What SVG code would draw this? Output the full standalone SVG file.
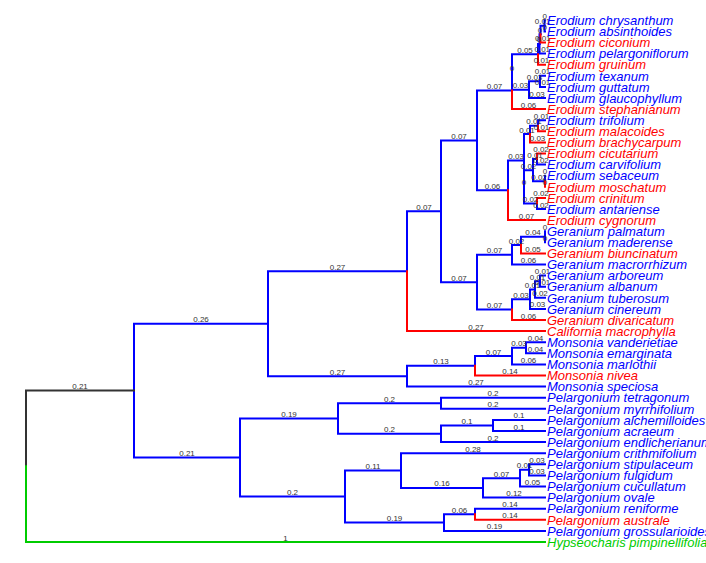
<svg xmlns="http://www.w3.org/2000/svg" width="706" height="563" viewBox="0 0 706 563">
<style>
.e{fill:none;stroke-width:2;stroke-linecap:square;stroke-linejoin:miter}
.b{stroke:#0000FF}.r{stroke:#FF0000}.k{stroke:#333333}.g{stroke:#00CC00}
.el{font-family:"Liberation Sans",Arial,sans-serif;font-size:8px;fill:#333333;text-anchor:middle}
.lf{font-family:"Liberation Sans",Arial,sans-serif;font-size:13px;font-style:italic}
.tb{fill:#0000FF}.tr{fill:#FF0000}.tg{fill:#00CC00}
</style>
<rect width="706" height="563" fill="#FFFFFF"/>
<g id="connectors">
<path class="e b" d="M134,390.6V323.7H268"/>
<path class="e b" d="M134,390.6V457.53H240"/>
<path class="e b" d="M268,323.7V271.2H407"/>
<path class="e b" d="M268,323.7V376.19H407"/>
<path class="e b" d="M407,271.2V211.3H441"/>
<path class="e b" d="M441,211.3V140.4H477"/>
<path class="e b" d="M441,211.3V282.19H477"/>
<path class="e b" d="M477,140.4V90.54H512"/>
<path class="e b" d="M477,140.4V190.27H508"/>
<path class="e b" d="M512,90.54V71.98"/>
<path class="e b" d="M512,71.98V54.29H538"/>
<path class="e b" d="M512,71.98V89.675H529"/>
<path class="e b" d="M538,54.29V43.89H539.5"/>
<path class="e b" d="M539.5,43.89V34.175H540.5"/>
<path class="e b" d="M539.5,43.89V53.6H545"/>
<path class="e b" d="M540.5,34.175V25.85H544.5"/>
<path class="e b" d="M544.5,25.85V20.3H545"/>
<path class="e b" d="M544.5,25.85V31.4H545"/>
<path class="e b" d="M529,89.675V81.35H540"/>
<path class="e b" d="M529,89.675V98H545"/>
<path class="e b" d="M540,81.35V75.8H545"/>
<path class="e b" d="M540,81.35V86.9H545"/>
<path class="e b" d="M508,190.27V160.44H524"/>
<path class="e b" d="M524,160.44V134.075H530"/>
<path class="e b" d="M524,160.44V186.8"/>
<path class="e b" d="M530,134.075V125.75H538"/>
<path class="e b" d="M538,125.75V120.2H545"/>
<path class="e b" d="M524,186.8V170.15H533"/>
<path class="e b" d="M524,186.8V203.45H537"/>
<path class="e b" d="M533,170.15V159.05H537"/>
<path class="e b" d="M533,170.15V181.25H545"/>
<path class="e b" d="M537,159.05V164.6H545"/>
<path class="e b" d="M545,181.25V175.7"/>
<path class="e b" d="M537,203.45V209H545"/>
<path class="e b" d="M477,282.19V254.79H512"/>
<path class="e b" d="M477,282.19V309.6H512"/>
<path class="e b" d="M512,254.79V245.075H521"/>
<path class="e b" d="M512,254.79V264.5H545"/>
<path class="e b" d="M521,245.075V236.75H545"/>
<path class="e b" d="M545,236.75V231.2"/>
<path class="e b" d="M545,236.75V242.3"/>
<path class="e b" d="M512,309.6V299.19H530"/>
<path class="e b" d="M530,299.19V289.475H535"/>
<path class="e b" d="M530,299.19V308.9H545"/>
<path class="e b" d="M535,289.475V281.15H540"/>
<path class="e b" d="M535,289.475V297.8H545"/>
<path class="e b" d="M540,281.15V275.6H545"/>
<path class="e b" d="M540,281.15V286.7H545"/>
<path class="e b" d="M407,376.19V365.79H475"/>
<path class="e b" d="M407,376.19V386.6H545"/>
<path class="e b" d="M475,365.79V356.075H512"/>
<path class="e b" d="M512,356.075V347.75H526"/>
<path class="e b" d="M512,356.075V364.4H545"/>
<path class="e b" d="M526,347.75V342.2H545"/>
<path class="e b" d="M526,347.75V353.3H545"/>
<path class="e b" d="M240,457.53V418.51H338"/>
<path class="e b" d="M240,457.53V496.56H345"/>
<path class="e b" d="M338,418.51V403.25H441"/>
<path class="e b" d="M338,418.51V433.775H441"/>
<path class="e b" d="M441,403.25V397.7H545"/>
<path class="e b" d="M441,403.25V408.8H545"/>
<path class="e b" d="M441,433.775V425.45H493"/>
<path class="e b" d="M441,433.775V442.1H545"/>
<path class="e b" d="M493,425.45V419.9H545"/>
<path class="e b" d="M493,425.45V431H545"/>
<path class="e b" d="M345,496.56V470.54H401"/>
<path class="e b" d="M345,496.56V522.575H444"/>
<path class="e b" d="M401,470.54V453.2H545"/>
<path class="e b" d="M401,470.54V487.89H483"/>
<path class="e b" d="M483,487.89V478.175H520"/>
<path class="e b" d="M483,487.89V497.6H545"/>
<path class="e b" d="M520,478.175V469.85H529"/>
<path class="e b" d="M520,478.175V486.5H545"/>
<path class="e b" d="M529,469.85V464.3H545"/>
<path class="e b" d="M529,469.85V475.4H545"/>
<path class="e b" d="M444,522.575V514.25H475"/>
<path class="e b" d="M444,522.575V530.9H545"/>
<path class="e b" d="M475,514.25V508.7H545"/>
<path class="e r" d="M407,271.2V331.1H545"/>
<path class="e r" d="M512,90.54V109.1H545"/>
<path class="e r" d="M538,54.29V64.7H545"/>
<path class="e r" d="M540.5,34.175V42.5H545"/>
<path class="e r" d="M508,190.27V220.1H545"/>
<path class="e r" d="M530,134.075V142.4H545"/>
<path class="e r" d="M538,125.75V131.3H545"/>
<path class="e r" d="M537,159.05V153.5H545"/>
<path class="e r" d="M545,181.25V186.8"/>
<path class="e r" d="M537,203.45V197.9H545"/>
<path class="e r" d="M521,245.075V253.4H545"/>
<path class="e r" d="M512,309.6V320H545"/>
<path class="e r" d="M475,365.79V375.5H545"/>
<path class="e r" d="M475,514.25V519.8H545"/>
<path class="e k" d="M26,466.3V390.6H134"/>
<path class="e g" d="M26,466.3V542H545"/>
</g>
<g id="edge-labels">
<text class="el" x="201" y="322.2">0.26</text>
<text class="el" x="187" y="456">0.21</text>
<text class="el" x="337.5" y="269.7">0.27</text>
<text class="el" x="337.5" y="374.7">0.27</text>
<text class="el" x="424" y="209.8">0.07</text>
<text class="el" x="459" y="138.9">0.07</text>
<text class="el" x="459" y="280.7">0.07</text>
<text class="el" x="494.5" y="89">0.07</text>
<text class="el" x="492.5" y="188.8">0.06</text>
<text class="el" x="512" y="70.5">0</text>
<text class="el" x="525" y="52.8">0.05</text>
<text class="el" x="520.5" y="88.2">0.03</text>
<text class="el" x="538.8" y="42.4">0</text>
<text class="el" x="540" y="32.7">0</text>
<text class="el" x="542.3" y="52.1">0.01</text>
<text class="el" x="542.5" y="24.4">0.01</text>
<text class="el" x="544.8" y="18.8">0</text>
<text class="el" x="544.8" y="29.9">0</text>
<text class="el" x="534.5" y="79.9">0.03</text>
<text class="el" x="537" y="96.5">0.03</text>
<text class="el" x="542.5" y="74.3">0.01</text>
<text class="el" x="542.5" y="85.4">0.01</text>
<text class="el" x="516" y="158.9">0.03</text>
<text class="el" x="527" y="132.6">0.01</text>
<text class="el" x="524" y="185.3">0</text>
<text class="el" x="534" y="124.3">0.01</text>
<text class="el" x="541.5" y="118.7">0.01</text>
<text class="el" x="528.5" y="168.7">0.02</text>
<text class="el" x="530.5" y="202">0.02</text>
<text class="el" x="535" y="157.6">0.01</text>
<text class="el" x="539" y="179.8">0.02</text>
<text class="el" x="541" y="163.1">0.02</text>
<text class="el" x="545" y="174.2">0</text>
<text class="el" x="541" y="207.5">0.02</text>
<text class="el" x="494.5" y="253.3">0.07</text>
<text class="el" x="494.5" y="308.1">0.07</text>
<text class="el" x="516.5" y="243.6">0.02</text>
<text class="el" x="528.5" y="263">0.06</text>
<text class="el" x="533" y="235.3">0.04</text>
<text class="el" x="545" y="229.7">0</text>
<text class="el" x="545" y="240.8">0</text>
<text class="el" x="521" y="297.7">0.03</text>
<text class="el" x="532.5" y="288">0.01</text>
<text class="el" x="537.5" y="307.4">0.03</text>
<text class="el" x="537.5" y="279.7">0.01</text>
<text class="el" x="540" y="296.3">0.02</text>
<text class="el" x="542.5" y="274.1">0.01</text>
<text class="el" x="542.5" y="285.2">0.01</text>
<text class="el" x="441" y="364.3">0.13</text>
<text class="el" x="476" y="385.1">0.27</text>
<text class="el" x="493.5" y="354.6">0.07</text>
<text class="el" x="519" y="346.3">0.03</text>
<text class="el" x="528.5" y="362.9">0.06</text>
<text class="el" x="535.5" y="340.7">0.04</text>
<text class="el" x="535.5" y="351.8">0.04</text>
<text class="el" x="289" y="417">0.19</text>
<text class="el" x="292.5" y="495.1">0.2</text>
<text class="el" x="389.5" y="401.8">0.2</text>
<text class="el" x="389.5" y="432.3">0.2</text>
<text class="el" x="493" y="396.2">0.2</text>
<text class="el" x="493" y="407.3">0.2</text>
<text class="el" x="467" y="424">0.1</text>
<text class="el" x="493" y="440.6">0.2</text>
<text class="el" x="519" y="418.4">0.1</text>
<text class="el" x="519" y="429.5">0.1</text>
<text class="el" x="373" y="469">0.11</text>
<text class="el" x="394.5" y="521.1">0.19</text>
<text class="el" x="473" y="451.7">0.28</text>
<text class="el" x="442" y="486.4">0.16</text>
<text class="el" x="501.5" y="476.7">0.07</text>
<text class="el" x="514" y="496.1">0.12</text>
<text class="el" x="524.5" y="468.4">0.01</text>
<text class="el" x="532.5" y="485">0.05</text>
<text class="el" x="537" y="462.8">0.03</text>
<text class="el" x="537" y="473.9">0.03</text>
<text class="el" x="459.5" y="512.8">0.06</text>
<text class="el" x="494.5" y="529.4">0.19</text>
<text class="el" x="510" y="507.2">0.14</text>
<text class="el" x="476" y="329.6">0.27</text>
<text class="el" x="528.5" y="107.6">0.06</text>
<text class="el" x="541.5" y="63.2">0.01</text>
<text class="el" x="542.8" y="41">0.01</text>
<text class="el" x="526.5" y="218.6">0.07</text>
<text class="el" x="537.5" y="140.9">0.03</text>
<text class="el" x="541.5" y="129.8">0.01</text>
<text class="el" x="541" y="152">0.02</text>
<text class="el" x="545" y="185.3">0</text>
<text class="el" x="541" y="196.4">0.02</text>
<text class="el" x="533" y="251.9">0.05</text>
<text class="el" x="528.5" y="318.5">0.06</text>
<text class="el" x="510" y="374">0.14</text>
<text class="el" x="510" y="518.3">0.14</text>
<text class="el" x="80" y="389.1">0.21</text>
<text class="el" x="285.5" y="540.5">1</text>
</g>
<g id="leaves">
<g id="n01"><text class="lf tb" x="547" y="25">Erodium chrysanthum</text></g>
<g id="n02"><text class="lf tb" x="547" y="36.1">Erodium absinthoides</text></g>
<g id="n03"><text class="lf tr" x="547" y="47.2">Erodium ciconium</text></g>
<g id="n04"><text class="lf tb" x="547" y="58.3">Erodium pelargoniflorum</text></g>
<g id="n05"><text class="lf tr" x="547" y="69.4">Erodium gruinum</text></g>
<g id="n06"><text class="lf tb" x="547" y="80.5">Erodium texanum</text></g>
<g id="n07"><text class="lf tb" x="547" y="91.6">Erodium guttatum</text></g>
<g id="n08"><text class="lf tb" x="547" y="102.7">Erodium glaucophyllum</text></g>
<g id="n09"><text class="lf tr" x="547" y="113.8">Erodium stephanianum</text></g>
<g id="n10"><text class="lf tb" x="547" y="124.9">Erodium trifolium</text></g>
<g id="n11"><text class="lf tr" x="547" y="136">Erodium malacoides</text></g>
<g id="n12"><text class="lf tr" x="547" y="147.1">Erodium brachycarpum</text></g>
<g id="n13"><text class="lf tr" x="547" y="158.2">Erodium cicutarium</text></g>
<g id="n14"><text class="lf tb" x="547" y="169.3">Erodium carvifolium</text></g>
<g id="n15"><text class="lf tb" x="547" y="180.4">Erodium sebaceum</text></g>
<g id="n16"><text class="lf tr" x="547" y="191.5">Erodium moschatum</text></g>
<g id="n17"><text class="lf tr" x="547" y="202.6">Erodium crinitum</text></g>
<g id="n18"><text class="lf tb" x="547" y="213.7">Erodium antariense</text></g>
<g id="n19"><text class="lf tr" x="547" y="224.8">Erodium cygnorum</text></g>
<g id="n20"><text class="lf tb" x="547" y="235.9">Geranium palmatum</text></g>
<g id="n21"><text class="lf tb" x="547" y="247">Geranium maderense</text></g>
<g id="n22"><text class="lf tr" x="547" y="258.1">Geranium biuncinatum</text></g>
<g id="n23"><text class="lf tb" x="547" y="269.2">Geranium macrorrhizum</text></g>
<g id="n24"><text class="lf tb" x="547" y="280.3">Geranium arboreum</text></g>
<g id="n25"><text class="lf tb" x="547" y="291.4">Geranium albanum</text></g>
<g id="n26"><text class="lf tb" x="547" y="302.5">Geranium tuberosum</text></g>
<g id="n27"><text class="lf tb" x="547" y="313.6">Geranium cinereum</text></g>
<g id="n28"><text class="lf tr" x="547" y="324.7">Geranium divaricatum</text></g>
<g id="n29"><text class="lf tr" x="547" y="335.8">California macrophylla</text></g>
<g id="n30"><text class="lf tb" x="547" y="346.9">Monsonia vanderietiae</text></g>
<g id="n31"><text class="lf tb" x="547" y="358">Monsonia emarginata</text></g>
<g id="n32"><text class="lf tb" x="547" y="369.1">Monsonia marlothii</text></g>
<g id="n33"><text class="lf tr" x="547" y="380.2">Monsonia nivea</text></g>
<g id="n34"><text class="lf tb" x="547" y="391.3">Monsonia speciosa</text></g>
<g id="n35"><text class="lf tb" x="547" y="402.4">Pelargonium tetragonum</text></g>
<g id="n36"><text class="lf tb" x="547" y="413.5">Pelargonium myrrhifolium</text></g>
<g id="n37"><text class="lf tb" x="547" y="424.6">Pelargonium alchemilloides</text></g>
<g id="n38"><text class="lf tb" x="547" y="435.7">Pelargonium acraeum</text></g>
<g id="n39"><text class="lf tb" x="547" y="446.8">Pelargonium endlicherianum</text></g>
<g id="n40"><text class="lf tb" x="547" y="457.9">Pelargonium crithmifolium</text></g>
<g id="n41"><text class="lf tb" x="547" y="469">Pelargonium stipulaceum</text></g>
<g id="n42"><text class="lf tb" x="547" y="480.1">Pelargonium fulgidum</text></g>
<g id="n43"><text class="lf tb" x="547" y="491.2">Pelargonium cucullatum</text></g>
<g id="n44"><text class="lf tb" x="547" y="502.3">Pelargonium ovale</text></g>
<g id="n45"><text class="lf tb" x="547" y="513.4">Pelargonium reniforme</text></g>
<g id="n46"><text class="lf tr" x="547" y="524.5">Pelargonium australe</text></g>
<g id="n47"><text class="lf tb" x="547" y="535.6">Pelargonium grossularioides</text></g>
<g id="n48"><text class="lf tg" x="547" y="546.7">Hypseocharis pimpinellifolia</text></g>
</g>
</svg>
